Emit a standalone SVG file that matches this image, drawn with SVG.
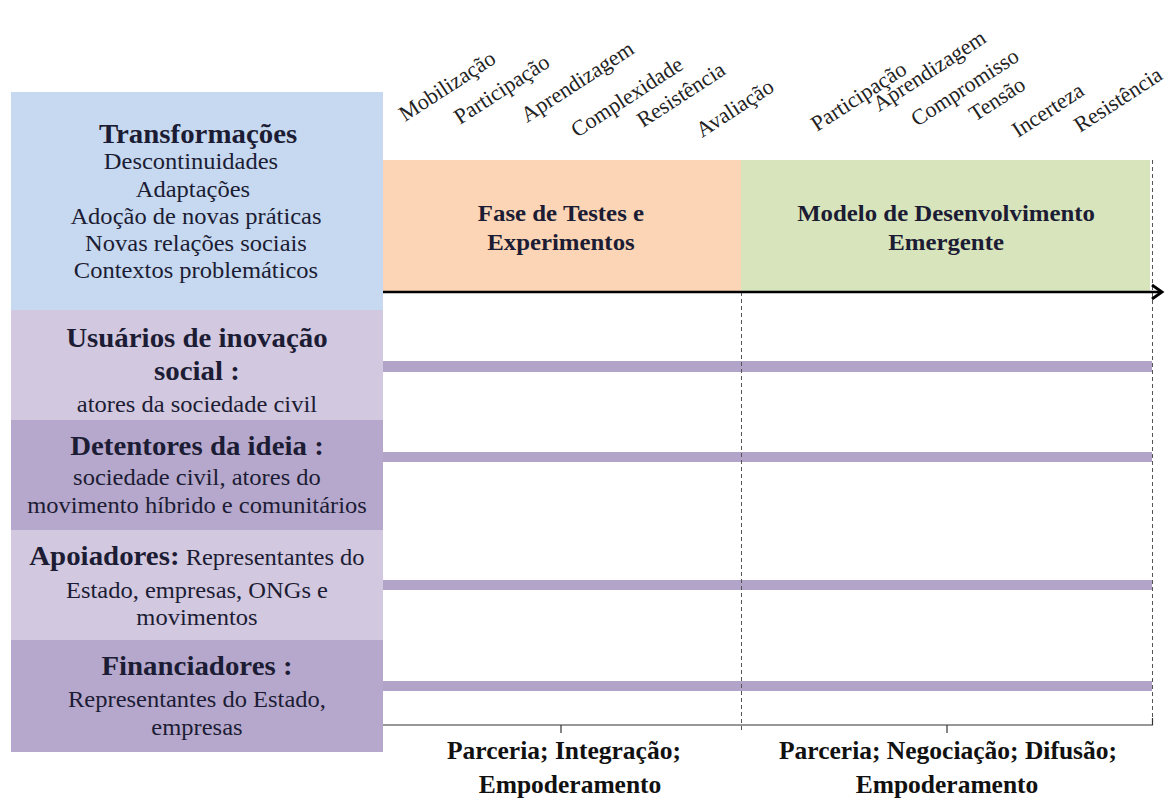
<svg xmlns="http://www.w3.org/2000/svg" width="1171" height="800" viewBox="0 0 1171 800">
  <style>
    .serif { font-family: "Liberation Serif", "Times New Roman", serif; fill: #1c1c34; }
    .head { font-size: 26.5px; font-weight: bold; }
    .body { font-size: 22.5px; }
    .phase { font-size: 23px; font-weight: bold; }
    .tag { font-size: 22px; fill: #222; }
    .foot { font-size: 25.5px; font-weight: bold; fill: #111; }
    .lane { fill: #b2a4c8; }
    .dash { stroke: #555; stroke-width: 1; stroke-dasharray: 4 3; fill: none; }
    .axis { stroke: #333; stroke-width: 1.2; fill: none; }
  </style>

  <rect width="1171" height="800" fill="#ffffff"/>

  <!-- left column: actors and transformations -->
  <g id="transformacoes">
    <rect x="11" y="92" width="372" height="218" fill="#c6d9f0"/>
  </g>
  <g id="usuarios">
    <rect x="11" y="310" width="372" height="110" fill="#d2c8df"/>
  </g>
  <g id="detentores">
    <rect x="11" y="420" width="372" height="110" fill="#b6a8cc"/>
  </g>
  <g id="apoiadores">
    <rect x="11" y="530" width="372" height="110" fill="#d2c8df"/>
  </g>
  <g id="financiadores">
    <rect x="11" y="640" width="372" height="112" fill="#b6a8cc"/>
  </g>

  <!-- column text, slightly widened -->
  <g class="serif" text-anchor="middle" transform="scale(1.09,1)">
    <text class="head" x="181.7" y="143">Transformações</text>
    <text class="body" x="175.2" y="169">Descontinuidades</text>
    <text class="body" x="177" y="197">Adaptações</text>
    <text class="body" x="179.8" y="224">Adoção de novas práticas</text>
    <text class="body" x="179.8" y="251">Novas relações sociais</text>
    <text class="body" x="179.8" y="278">Contextos problemáticos</text>

    <text class="head" x="180.7" y="347">Usuários de inovação</text>
    <text class="head" x="180.7" y="380">social :</text>
    <text class="body" x="180.7" y="412">atores da sociedade civil</text>

    <text class="head" x="180.7" y="455">Detentores da ideia :</text>
    <text class="body" x="180.7" y="485">sociedade civil, atores do</text>
    <text class="body" x="180.7" y="513">movimento híbrido e comunitários</text>

    <text x="180.7" y="565"><tspan class="head">Apoiadores:</tspan><tspan class="body"> Representantes do</tspan></text>
    <text class="body" x="180.7" y="598">Estado, empresas, ONGs e</text>
    <text class="body" x="180.7" y="625">movimentos</text>

    <text class="head" x="180.7" y="675">Financiadores :</text>
    <text class="body" x="180.7" y="707">Representantes do Estado,</text>
    <text class="body" x="180.7" y="735">empresas</text>
  </g>

  <!-- phases -->
  <g id="fase-testes">
    <rect x="383" y="160" width="358" height="132" fill="#fbd5b5"/>
    <g class="serif" text-anchor="middle" transform="scale(1.08,1)">
      <text class="phase" x="519.4" y="221">Fase de Testes e</text>
      <text class="phase" x="519.4" y="250">Experimentos</text>
    </g>
  </g>
  <g id="modelo-emergente">
    <rect x="741" y="160" width="409" height="132" fill="#d8e4bc"/>
    <g class="serif" text-anchor="middle" transform="scale(1.08,1)">
      <text class="phase" x="876" y="221">Modelo de Desenvolvimento</text>
      <text class="phase" x="876" y="250">Emergente</text>
    </g>
  </g>

  <!-- dynamics over each phase -->
  <g id="dinamicas-testes" class="serif tag">
    <text transform="translate(405,122) rotate(-33)">Mobilização</text>
    <text transform="translate(460,125) rotate(-33)">Participação</text>
    <text transform="translate(527,123) rotate(-33)">Aprendizagem</text>
    <text transform="translate(577,138) rotate(-33)">Complexidade</text>
    <text transform="translate(643,128) rotate(-33)">Resistência</text>
    <text transform="translate(702,138) rotate(-33)">Avaliação</text>
  </g>
  <g id="dinamicas-modelo" class="serif tag">
    <text transform="translate(817,132) rotate(-33)">Participação</text>
    <text transform="translate(879,112) rotate(-33)">Aprendizagem</text>
    <text transform="translate(917,127) rotate(-33)">Compromisso</text>
    <text transform="translate(975,122) rotate(-33)">Tensão</text>
    <text transform="translate(1018,138) rotate(-33)">Incerteza</text>
    <text transform="translate(1080,133) rotate(-33)">Resistência</text>
  </g>

  <!-- actor lanes -->
  <g id="lanes">
    <rect class="lane" x="383" y="361" width="769" height="11"/>
    <rect class="lane" x="383" y="452" width="769" height="10"/>
    <rect class="lane" x="383" y="580" width="769" height="10"/>
    <rect class="lane" x="383" y="681" width="769" height="10"/>
  </g>

  <!-- time arrow, phase separators and bottom axis -->
  <g id="connectors">
    <line class="dash" x1="741.5" y1="292" x2="741.5" y2="733"/>
    <line class="dash" x1="1152.5" y1="160" x2="1152.5" y2="725"/>
    <line x1="383" y1="292" x2="1160" y2="292" stroke="#000" stroke-width="2.6"/>
    <polyline points="1152,285 1162,292 1152,299" fill="none" stroke="#000" stroke-width="2.8" stroke-linejoin="miter"/>
    <line class="axis" x1="383" y1="725" x2="1153" y2="725"/>
    <line class="axis" x1="561" y1="725" x2="561" y2="733"/>
    <line class="axis" x1="947" y1="725" x2="947" y2="733"/>
    <line class="axis" x1="1152.5" y1="718" x2="1152.5" y2="725"/>
  </g>

  <!-- processes under each phase -->
  <g id="processos" class="serif" text-anchor="middle">
    <text class="foot" x="564" y="759">Parceria; Integração;</text>
    <text class="foot" x="570" y="793">Empoderamento</text>
    <text class="foot" x="948" y="759">Parceria; Negociação; Difusão;</text>
    <text class="foot" x="947" y="793">Empoderamento</text>
  </g>
</svg>
